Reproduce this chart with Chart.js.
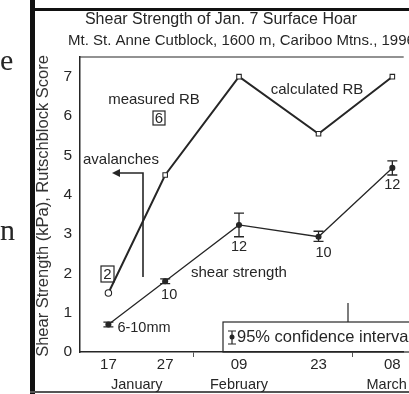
<!DOCTYPE html>
<html>
<head>
<meta charset="utf-8">
<script src="https://cdn.jsdelivr.net/npm/chart.js@4.4.1/dist/chart.umd.min.js"></script>
<style>
  html, body { margin: 0; padding: 0; background: #fff; }
  #wrap { width: 409px; height: 394px; position: relative; }
</style>
</head>
<body>
<div id="wrap"><canvas id="hoar"></canvas></div>
<script>
// sampling days (day of year) and their tick labels
var days = [17, 27, 40, 54, 67];
var dayLabels = ['17', '27', '09', '23', '08'];
var monthStarts = [32, 60];
var months = ['January', 'February', 'March'];
var monthCenters = [22, 40, 66];

// rutschblock scores (measured first point, calculated after)
var rbScores = [1.5, 4.5, 7, 5.55, 7];
// shear strength (kPa) with 95% confidence limits
var shear = [0.7, 1.8, 3.23, 2.93, 4.68];
var shearLow = [0.64, 1.74, 2.93, 2.81, 4.5];
var shearHigh = [0.76, 1.86, 3.53, 3.07, 4.86];
var shearNotes = ['6-10mm', '10', '12', '10', '12'];

var ink = '#262626';
var font = "'Liberation Sans', Arial, sans-serif";

function pts(vals) {
  return days.map(function(d, i) { return {x: d, y: vals[i]}; });
}

var decorations = {
  id: 'decorations',
  beforeDraw: function(chart) {
    var c = chart.ctx;
    c.save();
    c.fillStyle = '#fff';
    c.fillRect(0, 0, chart.width, chart.height);
    c.restore();
  },
  afterDatasetsDraw: function(chart) {
    var c = chart.ctx;
    var xs = chart.scales.x, ys = chart.scales.y;
    var a = chart.chartArea;
    c.save();

    // page frame
    c.fillStyle = '#111';
    c.fillRect(30, 0, 5, 394);
    c.fillRect(30, 8, 379, 3);
    c.fillStyle = '#555';
    c.fillRect(30, 391, 379, 2);

    // top edge of the plot box
    c.strokeStyle = ink;
    c.lineWidth = 1.2;
    c.beginPath();
    c.moveTo(a.left, a.top);
    c.lineTo(a.right, a.top);
    c.stroke();

    // error bars
    c.lineWidth = 1.3;
    for (var i = 0; i < days.length; i++) {
      var px = xs.getPixelForValue(days[i]);
      var lo = ys.getPixelForValue(shearLow[i]);
      var hi = ys.getPixelForValue(shearHigh[i]);
      c.beginPath();
      c.moveTo(px, lo); c.lineTo(px, hi);
      c.moveTo(px - 5, lo); c.lineTo(px + 5, lo);
      c.moveTo(px - 5, hi); c.lineTo(px + 5, hi);
      c.stroke();
    }

    // texts
    c.fillStyle = ink;
    c.textBaseline = 'middle';
    c.textAlign = 'center';
    c.font = '16px ' + font;
    c.fillText('Shear Strength of Jan. 7 Surface Hoar', 221, 20);
    c.textAlign = 'left';
    c.font = '15px ' + font;
    c.fillText('Mt. St. Anne Cutblock, 1600 m, Cariboo Mtns., 1996', 68, 41);

    // page fragments left of the figure
    c.font = '30px "Liberation Serif", serif';
    c.fillText('e', 0, 62);
    c.fillText('n', 0, 232);

    // y axis title
    c.save();
    c.translate(43, 206);
    c.rotate(-Math.PI / 2);
    c.textAlign = 'center';
    c.font = '16.5px ' + font;
    c.fillStyle = '#333';
    c.fillText('Shear Strength (kPa), Rutschblock Score', 0, 0);
    c.restore();

    c.font = '15px ' + font;
    c.textAlign = 'center';
    c.fillText('measured RB', 154, 100);
    c.fillText('calculated RB', 317, 90);
    c.textAlign = 'left';
    c.fillText('avalanches', 83, 160);
    c.fillText('shear strength', 191, 273);

    // boxed scores
    c.textAlign = 'center';
    c.lineWidth = 1.2;
    c.strokeStyle = ink;
    c.strokeRect(153, 111, 12, 14);
    c.fillText('6', 159, 118.5);
    c.strokeRect(101, 266, 13, 16);
    c.fillText('2', 107.5, 274.5);

    // avalanche arrow
    c.lineWidth = 1.6;
    c.beginPath();
    c.moveTo(143, 277);
    c.lineTo(143, 173);
    c.lineTo(118, 173);
    c.stroke();
    c.beginPath();
    c.moveTo(112, 173);
    c.lineTo(120, 169);
    c.lineTo(120, 177);
    c.closePath();
    c.fill();

    // sample notes under shear points
    c.font = '14.5px ' + font;
    var offs = [[9, 4], [4, 14], [0, 22], [5, 16], [0, 17]];
    for (var j = 0; j < days.length; j++) {
      var nx = xs.getPixelForValue(days[j]) + offs[j][0];
      var ny = ys.getPixelForValue(shear[j]) + offs[j][1];
      c.textAlign = j === 0 ? 'left' : 'center';
      c.fillText(shearNotes[j], nx, ny);
    }

    // legend box
    c.lineWidth = 1.2;
    c.strokeRect(223, 322, 200, 30);
    c.beginPath();
    c.moveTo(348, 322); c.lineTo(348, 303);
    c.stroke();
    c.beginPath();
    c.moveTo(232, 331); c.lineTo(232, 344);
    c.moveTo(228, 331); c.lineTo(236, 331);
    c.moveTo(228, 344); c.lineTo(236, 344);
    c.stroke();
    c.beginPath();
    c.arc(232, 337, 2.5, 0, Math.PI * 2);
    c.fill();
    c.textAlign = 'left';
    c.font = '16.5px ' + font;
    c.fillText('95% confidence interval', 237, 337);

    // month names
    c.font = '14.5px ' + font;
    c.textAlign = 'center';
    for (var m = 0; m < months.length; m++) {
      c.fillText(months[m], xs.getPixelForValue(monthCenters[m]), 385);
    }
    c.restore();
  }
};

var ctx = document.getElementById('hoar').getContext('2d');
var chart = new Chart(ctx, {
  type: 'line',
  data: {
    datasets: [
      {
        data: pts(rbScores),
        borderColor: ink,
        borderWidth: 2,
        pointStyle: ['circle', 'rect', 'rect', 'rect', 'rect'],
        pointRadius: 3.2,
        pointBackgroundColor: '#fff',
        pointBorderColor: ink,
        pointBorderWidth: 1.1,
        tension: 0
      },
      {
        data: pts(shear),
        borderColor: ink,
        borderWidth: 1.3,
        pointStyle: 'circle',
        pointRadius: 2.4,
        pointBackgroundColor: ink,
        pointBorderColor: ink,
        tension: 0
      }
    ]
  },
  plugins: [decorations],
  options: {
    responsive: true,
    maintainAspectRatio: false,
    animation: false,
    layout: { padding: { left: 0, top: 57, right: 0, bottom: 0 } },
    plugins: {
      legend: { display: false },
      tooltip: { enabled: false },
      title: { display: false }
    },
    scales: {
      x: {
        type: 'linear',
        min: 12,
        max: 69,
        afterBuildTicks: function(s) {
          s.ticks = days.concat(monthStarts).map(function(v) { return {value: v}; });
        },
        afterFit: function(s) { s.height = 42; },
        border: { color: ink, width: 1.5 },
        grid: {
          drawOnChartArea: false,
          tickLength: 5,
          color: function(c) {
            return monthStarts.indexOf(c.tick.value) >= 0 ? '#555' : 'rgba(0,0,0,0)';
          }
        },
        ticks: {
          padding: -1,
          color: ink,
          font: { family: font, size: 15 },
          maxRotation: 0,
          autoSkip: false,
          callback: function(v) {
            var k = days.indexOf(v);
            return k >= 0 ? dayLabels[k] : '';
          }
        }
      },
      y: {
        min: 0,
        max: 7.5,
        afterBuildTicks: function(s) {
          s.ticks = s.ticks.filter(function(t) { return Number.isInteger(t.value); });
        },
        afterFit: function(s) { s.width = 80; },
        border: { color: ink, width: 1.5 },
        grid: { drawOnChartArea: false, drawTicks: false },
        ticks: {
          stepSize: 1,
          padding: 8,
          color: ink,
          font: { family: font, size: 15.5 }
        }
      }
    }
  }
});
</script>
</body>
</html>
